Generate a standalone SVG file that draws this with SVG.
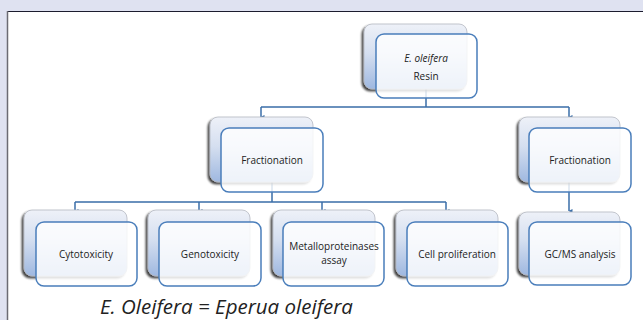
<svg xmlns="http://www.w3.org/2000/svg" width="643" height="320" viewBox="0 0 643 320">
<defs>
<linearGradient id="bg" x1="0" y1="0" x2="0" y2="1">
<stop offset="0" stop-color="#eef1f8"/>
<stop offset="0.45" stop-color="#d5dff0"/>
<stop offset="1" stop-color="#9fb8e0"/>
</linearGradient>
<filter id="sh" x="-20%" y="-20%" width="140%" height="140%">
<feGaussianBlur in="SourceAlpha" stdDeviation="1.2"/>
<feOffset dx="-2" dy="2" result="o"/>
<feComponentTransfer><feFuncA type="linear" slope="0.75"/></feComponentTransfer>
<feMerge><feMergeNode/><feMergeNode in="SourceGraphic"/></feMerge>
</filter>
<marker id="ah" viewBox="0 0 4 4" refX="2" refY="3.5" markerWidth="4" markerHeight="4" markerUnits="userSpaceOnUse" orient="auto">
<path d="M0,0 L4,0 L2,4 z" fill="#3a6ea8"/>
</marker>
</defs>
<style>
.back{fill:url(#bg);stroke:#b5b9c2;stroke-width:0.8;filter:url(#sh)}
.front{fill:#ffffff;fill-opacity:0.82;stroke:#4a7ebb;stroke-width:1.5}
.t{font-family:"Open Sans","Noto Sans",sans-serif;font-size:10px;fill:#222;text-anchor:middle}
.c{fill:none;stroke:#3a6ea8;stroke-width:1.5}
.cap{font-family:"Open Sans","Noto Sans",sans-serif;font-size:20.5px;font-style:italic;fill:#222}
</style>
<rect x="0" y="0" width="643" height="320" fill="#dfe2f1"/>
<rect x="7" y="11" width="636" height="309" fill="#ffffff"/>
<line x1="7" y1="11.5" x2="643" y2="11.5" stroke="#1c1c2e" stroke-width="1"/>
<line x1="7.5" y1="11" x2="7.5" y2="320" stroke="#6b6b73" stroke-width="1.5"/>
<g id="connectors">
<path class="c" d="M426,89 V107 M261,107 H569" />
<path class="c" d="M261,107 V117" marker-end="url(#ah)"/>
<path class="c" d="M569,107 V117" marker-end="url(#ah)"/>
<path class="c" d="M272,182 V202 M75,202 H446"/>
<path class="c" d="M75,202 V211" marker-end="url(#ah)"/>
<path class="c" d="M199,202 V211" marker-end="url(#ah)"/>
<path class="c" d="M322,202 V211" marker-end="url(#ah)"/>
<path class="c" d="M446,202 V211" marker-end="url(#ah)"/>
<path class="c" d="M569,182 V211" marker-end="url(#ah)"/>
</g>
<g id="n-resin">
<rect class="back" x="364" y="24" width="103" height="65" rx="8"/>
<rect class="front" x="376" y="34" width="101" height="64" rx="8"/>
<text class="t" x="426" y="62" font-style="italic">E. oleifera</text>
<text class="t" x="426" y="80">Resin</text>
</g>
<g id="n-frac1">
<rect class="back" x="210" y="117" width="103" height="65" rx="8"/>
<rect class="front" x="221" y="128" width="102" height="64" rx="8"/>
<text class="t" x="272" y="164">Fractionation</text>
</g>
<g id="n-frac2">
<rect class="back" x="519" y="117" width="101" height="65" rx="8"/>
<rect class="front" x="529" y="128" width="102" height="64" rx="8"/>
<text class="t" x="580" y="164">Fractionation</text>
</g>
<g id="n-cyto">
<rect class="back" x="24" y="210" width="103" height="66" rx="8"/>
<rect class="front" x="36" y="222" width="101" height="64" rx="8"/>
<text class="t" x="86" y="258">Cytotoxicity</text>
</g>
<g id="n-geno">
<rect class="back" x="148" y="210" width="102" height="66" rx="8"/>
<rect class="front" x="159" y="222" width="102" height="64" rx="8"/>
<text class="t" x="210" y="258">Genotoxicity</text>
</g>
<g id="n-metal">
<rect class="back" x="273" y="210" width="102" height="66" rx="8"/>
<rect class="front" x="283" y="222" width="101" height="64" rx="8"/>
<text class="t" x="334" y="250">Metalloproteinases</text>
<text class="t" x="334" y="264">assay</text>
</g>
<g id="n-cell">
<rect class="back" x="396" y="210" width="102" height="66" rx="8"/>
<rect class="front" x="407" y="222" width="101" height="64" rx="8"/>
<text class="t" x="457" y="258">Cell proliferation</text>
</g>
<g id="n-gcms">
<rect class="back" x="519" y="212" width="101" height="63" rx="8"/>
<rect class="front" x="529" y="222" width="102" height="63" rx="8"/>
<text class="t" x="580" y="258">GC/MS analysis</text>
</g>
<text class="cap" x="100" y="314">E. Oleifera = Eperua oleifera</text>
</svg>
